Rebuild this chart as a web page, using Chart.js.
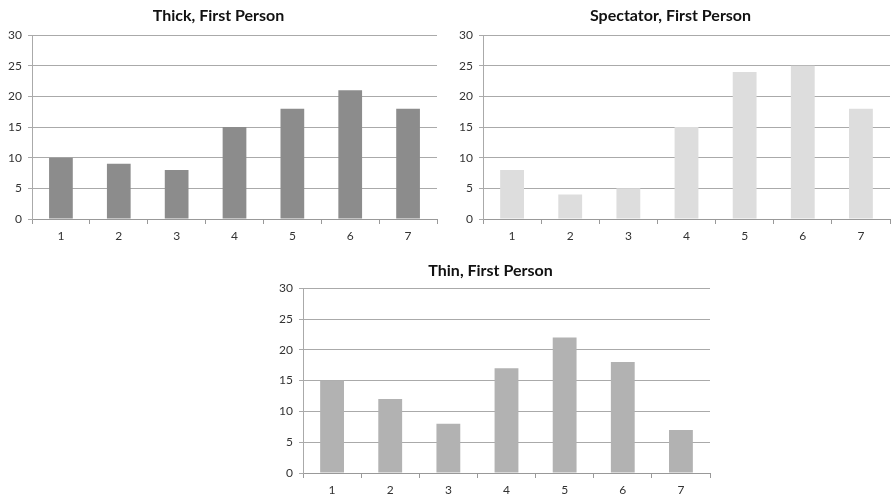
<!DOCTYPE html>
<html>
<head>
<meta charset="utf-8">
<script src="https://cdn.jsdelivr.net/npm/chart.js@4.4.1/dist/chart.umd.min.js"></script>
<style>
  body { margin: 0; background: #fff; width: 891px; height: 498px; overflow: hidden; position: relative; }
  .box { position: absolute; }
  #box1 { left: 0; top: 0; width: 445px; height: 250px; }
  #box2 { left: 451px; top: 0; width: 440px; height: 250px; }
  #box3 { left: 271px; top: 250px; width: 445px; height: 254px; }
</style>
</head>
<body>
<div class="box" id="box1"><canvas id="thickChart"></canvas></div>
<div class="box" id="box2"><canvas id="spectatorChart"></canvas></div>
<div class="box" id="box3"><canvas id="thinChart"></canvas></div>
<script>
const categories = ['1', '2', '3', '4', '5', '6', '7'];
const thickValues = [10, 9, 8, 15, 18, 21, 18];
const spectatorValues = [8, 4, 5, 15, 24, 25, 18];
const thinValues = [15, 12, 8, 17, 22, 18, 7];
const yTicks = [0, 5, 10, 15, 20, 25, 30];

Chart.defaults.font.family = 'Lato, "Liberation Sans", sans-serif';
Chart.defaults.color = '#333';
Chart.defaults.animation = false;

function makeChart(id, title, values, color, padRight, titlePad) {
    const ctx = document.getElementById(id).getContext('2d');
    return new Chart(ctx, {
        type: 'bar',
        data: {
            labels: categories,
            datasets: [{
                label: title,
                data: values,
                backgroundColor: color,
                borderWidth: 0,
                categoryPercentage: 1,
                barPercentage: 0.41
            }]
        },
        options: {
            responsive: true,
            maintainAspectRatio: false,
            layout: {
                padding: { left: 0, right: padRight, top: 0, bottom: 3 }
            },
            plugins: {
                legend: { display: false },
                tooltip: { enabled: false },
                title: {
                    display: true,
                    text: title,
                    color: '#111',
                    font: { size: 16, weight: 'bold' },
                    padding: titlePad
                }
            },
            scales: {
                x: {
                    offset: true,
                    grid: {
                        offset: true,
                        drawOnChartArea: false,
                        drawTicks: true,
                        tickLength: 5,
                        color: '#999'
                    },
                    border: { color: '#999' },
                    ticks: { font: { size: 12 }, padding: 5 },
                    afterFit: function (scale) { scale.height = 28; }
                },
                y: {
                    min: 0,
                    max: 30,
                    afterBuildTicks: function (scale) {
                        scale.ticks = yTicks.map(v => ({ value: v }));
                    },
                    grid: {
                        color: '#aaa',
                        tickLength: 4
                    },
                    border: { color: '#aaa' },
                    ticks: { font: { size: 12 }, padding: 6 },
                    afterFit: function (scale) { scale.width = 32; }
                }
            }
        }
    });
}

makeChart('thickChart', 'Thick, First Person', thickValues, '#8c8c8c', 8, { top: 6, bottom: 10 });
makeChart('spectatorChart', 'Spectator, First Person', spectatorValues, '#dddddd', 1, { top: 6, bottom: 10 });
makeChart('thinChart', 'Thin, First Person', thinValues, '#b2b2b2', 6, { top: 11, bottom: 8 });
</script>
</body>
</html>
